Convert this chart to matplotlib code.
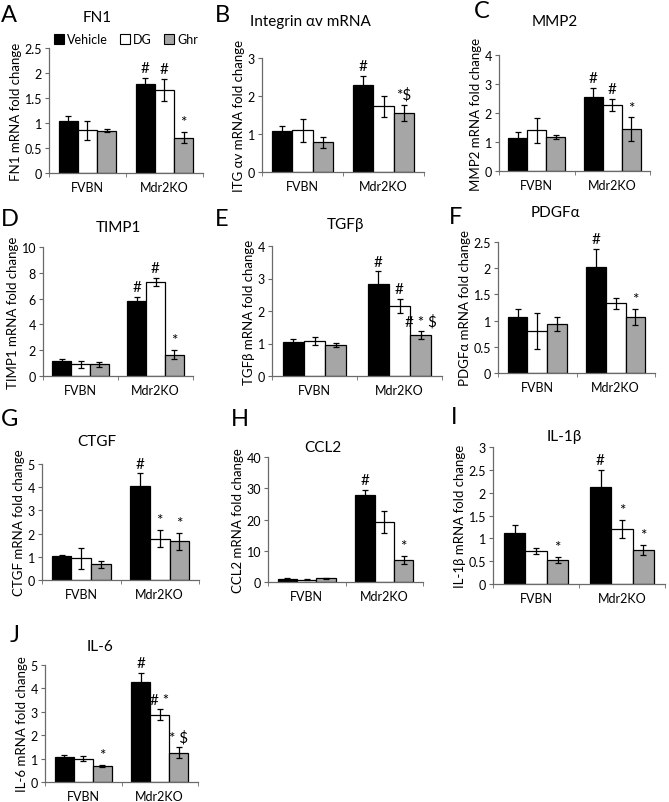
import numpy as np
import matplotlib
matplotlib.use('Agg')
import matplotlib.pyplot as plt
from matplotlib.patches import Patch
from matplotlib.ticker import FormatStrFormatter

plt.rcParams['font.family'] = ['Lato', 'DejaVu Sans']

groups = ['FVBN', 'Mdr2KO']
treatments = ['Vehicle', 'DG', 'Ghr']
colors = ['black', 'white', '#a6a6a6']

# mean values per treatment: [FVBN, Mdr2KO]
fn1_mean = [[1.05, 1.79], [0.86, 1.66], [0.85, 0.71]]
fn1_err = [[0.09, 0.12], [0.19, 0.22], [0.03, 0.11]]
fn1_sig = [['', '#'], ['', '#'], ['', '*']]

itg_mean = [[1.07, 2.30], [1.10, 1.73], [0.78, 1.55]]
itg_err = [[0.15, 0.22], [0.30, 0.28], [0.15, 0.22]]
itg_sig = [['', '#'], ['', ''], ['', '*$']]

mmp2_mean = [[1.13, 2.55], [1.40, 2.28], [1.17, 1.45]]
mmp2_err = [[0.23, 0.32], [0.42, 0.20], [0.07, 0.40]]
mmp2_sig = [['', '#'], ['', '#'], ['', '*']]

timp1_mean = [[1.15, 5.85], [0.90, 7.30], [0.90, 1.65]]
timp1_err = [[0.20, 0.30], [0.30, 0.30], [0.20, 0.35]]
timp1_sig = [['', '#'], ['', '#'], ['', '*']]

tgfb_mean = [[1.05, 2.82], [1.08, 2.15], [0.95, 1.25]]
tgfb_err = [[0.10, 0.40], [0.13, 0.22], [0.07, 0.12]]
tgfb_sig = [['', '#'], ['', '#'], ['', '# * $']]

pdgfa_mean = [[1.07, 2.02], [0.80, 1.33], [0.93, 1.07]]
pdgfa_err = [[0.15, 0.35], [0.35, 0.10], [0.13, 0.15]]
pdgfa_sig = [['', '#'], ['', ''], ['', '*']]

ctgf_mean = [[1.03, 4.05], [0.93, 1.78], [0.67, 1.67]]
ctgf_err = [[0.05, 0.55], [0.47, 0.37], [0.15, 0.37]]
ctgf_sig = [['', '#'], ['', '*'], ['', '*']]

ccl2_mean = [[0.9, 27.8], [0.8, 19.2], [1.2, 7.0]]
ccl2_err = [[0.3, 1.8], [0.2, 3.5], [0.2, 1.3]]
ccl2_sig = [['', '#'], ['', ''], ['', '*']]

il1b_mean = [[1.12, 2.12], [0.72, 1.20], [0.53, 0.74]]
il1b_err = [[0.17, 0.38], [0.07, 0.20], [0.06, 0.11]]
il1b_sig = [['', '#'], ['', '*'], ['*', '*']]

il6_mean = [[1.07, 4.28], [1.00, 2.88], [0.70, 1.25]]
il6_err = [[0.08, 0.38], [0.10, 0.22], [0.04, 0.23]]
il6_sig = [['', '#'], ['', '# *'], ['*', '* $']]

# letter, title, ylabel, data, ymax, ystep
panels = [
    ('A', 'FN1', 'FN1 mRNA fold change', fn1_mean, fn1_err, fn1_sig, 2.5, 0.5),
    ('B', 'Integrin αv mRNA', 'ITG αv mRNA fold change', itg_mean, itg_err, itg_sig, 3, 1),
    ('C', 'MMP2', 'MMP2 mRNA fold change', mmp2_mean, mmp2_err, mmp2_sig, 4, 1),
    ('D', 'TIMP1', 'TIMP1 mRNA fold change', timp1_mean, timp1_err, timp1_sig, 10, 2),
    ('E', 'TGFβ', 'TGFβ mRNA fold change', tgfb_mean, tgfb_err, tgfb_sig, 4, 1),
    ('F', 'PDGFα', 'PDGFα mRNA fold change', pdgfa_mean, pdgfa_err, pdgfa_sig, 2.5, 0.5),
    ('G', 'CTGF', 'CTGF mRNA fold change', ctgf_mean, ctgf_err, ctgf_sig, 5, 1),
    ('H', 'CCL2', 'CCL2 mRNA fold change', ccl2_mean, ccl2_err, ccl2_sig, 40, 10),
    ('I', 'IL-1β', 'IL-1β mRNA fold change', il1b_mean, il1b_err, il1b_sig, 3, 0.5),
    ('J', 'IL-6', 'IL-6 mRNA fold change', il6_mean, il6_err, il6_sig, 5, 1),
]

# axes boxes in pixels: left, right, top, bottom
boxes = [(49, 203, 49, 174), (262, 424, 59, 173), (499, 650, 56, 172),
         (43, 193, 248, 377), (272, 442, 247, 377), (498, 655, 243, 374),
         (42, 199, 465, 581), (268, 423, 458, 583), (493, 665, 448, 585),
         (45, 198, 666, 783)]
# panel letter positions and title positions in pixels
letter_pos = [(1, 16), (215, 15), (474, 11), (1, 220), (215, 220), (449, 218),
              (1, 420), (231, 420), (451, 418), (10, 635)]
title_pos = [(97, 18), (310, 22), (555, 22), (118, 228), (345, 225), (555, 213),
             (97, 442), (323, 448), (564, 437), (100, 647)]

W, H = 669, 803
fig = plt.figure(figsize=(W / 100, H / 100), dpi=100)
axis_col = '#6a6a6a'
x = np.arange(len(groups))
bw = 0.25

for i, (letter, title, ylab, mean, err, sig, ymax, ystep) in enumerate(panels):
    l, r, t, b = boxes[i]
    ax = fig.add_axes([l / W, 1 - b / H, (r - l) / W, (b - t) / H])
    for j in range(3):
        xs = x + (j - 1) * bw
        ax.bar(xs, mean[j], bw, color=colors[j], edgecolor='black', linewidth=0.9, zorder=2)
        ax.errorbar(xs, mean[j], yerr=err[j], fmt='none', ecolor='black',
                    elinewidth=0.9, capsize=2.5, capthick=0.9, zorder=3)
        for k in range(len(groups)):
            if sig[j][k]:
                ax.annotate(sig[j][k], (xs[k], mean[j][k] + err[j][k]),
                            xytext=(0, 2), textcoords='offset points',
                            ha='center', va='bottom', fontsize=11)
    ax.set_xlim(-0.5, 1.5)
    ax.set_ylim(0, ymax)
    ax.set_yticks(np.arange(0, ymax + ystep / 2, ystep))
    ax.yaxis.set_major_formatter(FormatStrFormatter('%g'))
    ax.set_xticks(x)
    ax.set_xticklabels(groups)
    ax.set_xticks([-0.5, 0.5, 1.5], minor=True)
    ax.tick_params(axis='x', which='major', length=0, labelsize=9, pad=6)
    ax.tick_params(axis='x', which='minor', length=3, color=axis_col, direction='out')
    ax.tick_params(axis='y', length=3, color=axis_col, labelsize=9, direction='out', pad=2)
    for s in ['top', 'right']:
        ax.spines[s].set_visible(False)
    for s in ['left', 'bottom']:
        ax.spines[s].set_color(axis_col)
        ax.spines[s].set_linewidth(0.9)
    ax.set_ylabel(ylab, fontsize=9.5, labelpad=2)

    lx, ly = letter_pos[i]
    fig.text(lx / W, 1 - ly / H, letter, fontsize=17, va='center', ha='left')
    tx, ty = title_pos[i]
    fig.text(tx / W, 1 - ty / H, title, fontsize=11, va='center', ha='center')

    if i == 0:
        handles = [Patch(facecolor=c, edgecolor='black', linewidth=0.8) for c in colors]
        ax.legend(handles, treatments, loc='lower center', bbox_to_anchor=(0.5, 0.98),
                  ncol=3, frameon=False, fontsize=9, handlelength=0.8, handleheight=0.8,
                  handletextpad=0.25, columnspacing=1.0, borderaxespad=0)

fig.savefig('out.png', dpi=100)
